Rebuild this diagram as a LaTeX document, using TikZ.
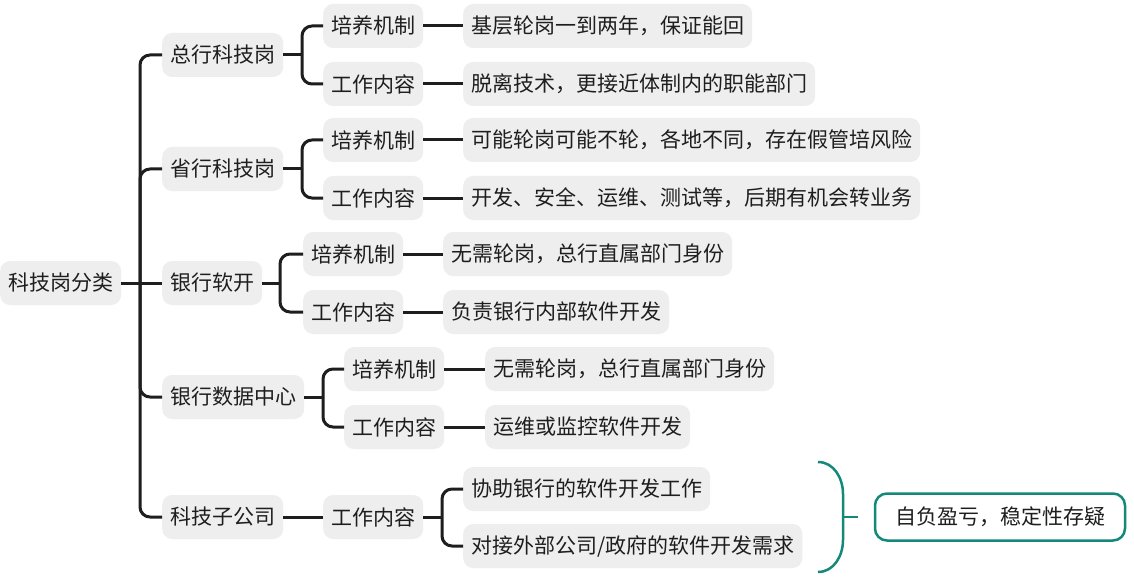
\documentclass[tikz,border=0pt]{standalone}
\usepackage{fontspec}
\setmainfont{Noto Sans CJK SC}
\definecolor{boxgray}{HTML}{EEEEEE}
\definecolor{tealc}{HTML}{14897A}
\definecolor{ink}{HTML}{1E1E1E}
\tikzset{
  box/.style={fill=boxgray, rounded corners=10pt, inner xsep=8pt, inner ysep=0pt,
    minimum height=44pt, anchor=west, text=ink, font=\fontsize{21}{25}\selectfont},
  conn/.style={draw=ink, line width=3pt},
  brc/.style={conn, rounded corners=10pt},
  tealline/.style={draw=tealc, line width=2.5pt},
}
\begin{document}
\begin{tikzpicture}[x=1pt,y=-1pt]
\fill[white] (0,0) rectangle (1134,580);
\useasboundingbox (0,0) rectangle (1134,580);

% nodes
\node[box] (root) at (0,283) {科技岗分类};
\node[box] (a) at (162,55) {总行科技岗};
\node[box] (b) at (162,169) {省行科技岗};
\node[box] (c) at (162,283) {银行软开};
\node[box] (d) at (162,397) {银行数据中心};
\node[box] (e) at (162,517) {科技子公司};

\node[box] (a1) at (323,26) {培养机制};
\node[box] (a2) at (323,84) {工作内容};
\node[box] (b1) at (323,140) {培养机制};
\node[box] (b2) at (323,198) {工作内容};
\node[box] (c1) at (303,254) {培养机制};
\node[box] (c2) at (303,312) {工作内容};
\node[box] (d1) at (344,369) {培养机制};
\node[box] (d2) at (344,427) {工作内容};
\node[box] (e1) at (323,517) {工作内容};

\node[box] (a1x) at (463,26) {基层轮岗一到两年，保证能回};
\node[box] (a2x) at (463,84) {脱离技术，更接近体制内的职能部门};
\node[box] (b1x) at (463,140) {可能轮岗可能不轮，各地不同，存在假管培风险};
\node[box] (b2x) at (463,198) {开发、安全、运维、测试等，后期有机会转业务};
\node[box] (c1x) at (443,254) {无需轮岗，总行直属部门身份};
\node[box] (c2x) at (443,312) {负责银行内部软件开发};
\node[box] (d1x) at (485,369) {无需轮岗，总行直属部门身份};
\node[box] (d2x) at (485,427) {运维或监控软件开发};
\node[box] (e1a) at (463,489) {协助银行的软件开发工作};
\node[box] (e1b) at (463,546) {对接外部公司/政府的软件开发需求};

\node[tealline, fill=white, rounded corners=12pt, minimum width=250pt, minimum height=47pt,
  text=ink, font=\fontsize{21}{25}\selectfont] (f) at (1000,517) {自负盈亏，稳定性存疑};

% junctions
\coordinate (j0) at (140,283);
\coordinate (ja) at (302,55);
\coordinate (jb) at (302,169);
\coordinate (jc) at (280,283);
\coordinate (jd) at (323,397);
\coordinate (je) at (442,517);

% root connectors
\draw[conn] (root.east) -- (j0);
\draw[brc] (j0) |- (a.west);
\draw[brc] (j0) |- (b.west);
\draw[conn] (j0) -- (c.west);
\draw[brc] (j0) |- (d.west);
\draw[brc] (j0) |- (e.west);

% level 1 -> level 2
\draw[conn] (a.east) -- (ja);
\draw[brc] (ja) |- (a1.west);
\draw[brc] (ja) |- (a2.west);
\draw[conn] (b.east) -- (jb);
\draw[brc] (jb) |- (b1.west);
\draw[brc] (jb) |- (b2.west);
\draw[conn] (c.east) -- (jc);
\draw[brc] (jc) |- (c1.west);
\draw[brc] (jc) |- (c2.west);
\draw[conn] (d.east) -- (jd);
\draw[brc] (jd) |- (d1.west);
\draw[brc] (jd) |- (d2.west);
\draw[conn] (e.east) -- (e1.west);

% level 2 -> level 3
\draw[conn] (a1.east) -- (a1x.west);
\draw[conn] (a2.east) -- (a2x.west);
\draw[conn] (b1.east) -- (b1x.west);
\draw[conn] (b2.east) -- (b2x.west);
\draw[conn] (c1.east) -- (c1x.west);
\draw[conn] (c2.east) -- (c2x.west);
\draw[conn] (d1.east) -- (d1x.west);
\draw[conn] (d2.east) -- (d2x.west);
\draw[conn] (e1.east) -- (je);
\draw[brc] (je) |- (e1a.west);
\draw[brc] (je) |- (e1b.west);

% teal brace
\coordinate (bt) at (858,517);
\coordinate (bm) at (843,517);
\draw[tealline] (818,462) to[out=0,in=90] (843,494) -- (843,540) to[out=-90,in=0] (818,572);
\draw[tealline] (bm) -- (bt);
\end{tikzpicture}
\end{document}
